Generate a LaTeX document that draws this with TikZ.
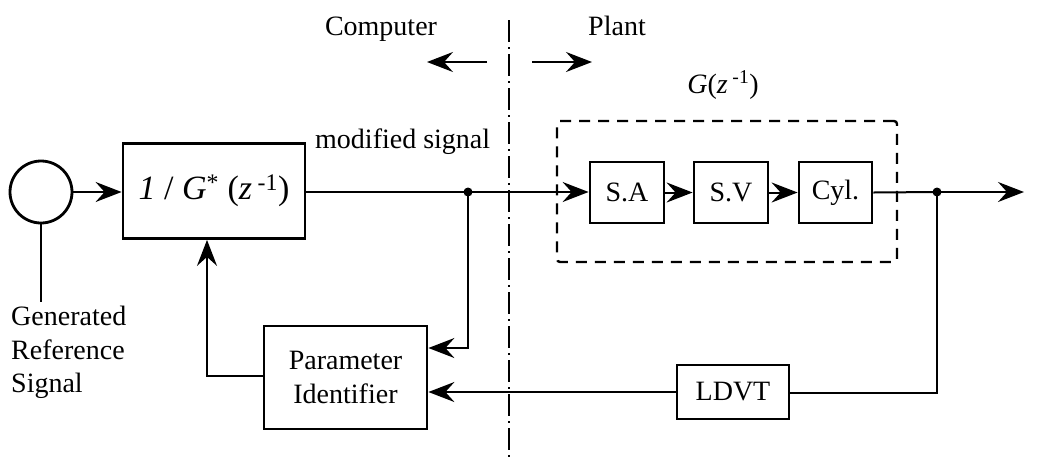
\documentclass[tikz,border=0pt]{standalone}
\usepackage{fontspec}
\setmainfont{Liberation Serif}
\usetikzlibrary{arrows.meta}
\begin{document}
\begin{tikzpicture}[x=1pt,y=-1pt,
  font=\fontsize{28}{33.5}\selectfont,
  blk/.style={draw,line width=2.8pt,inner sep=0pt,align=center},
  wire/.style={line width=2pt},
  arr/.style={wire,-{Stealth[length=26pt,width=20pt,inset=9pt]}},
  jdot/.style={circle,fill,inner sep=0pt,minimum size=9pt},
  dashbox/.style={draw,line width=2.4pt,dash pattern=on 11pt off 8pt,rounded corners=3pt,inner sep=0pt},
  sep/.style={line width=1.6pt,dash pattern=on 22pt off 5pt on 2pt off 5pt}]
\useasboundingbox (0,0) rectangle (1046,459);

% separator and side labels
\coordinate (septop) at (509,20);
\coordinate (sepbot) at (509,459);
\draw[sep] (septop) -- (sepbot);
\node[anchor=base,inner sep=0pt] (comp) at (381,35) {Computer};
\node[anchor=base,inner sep=0pt] (plant) at (617,35) {Plant};
\coordinate (la1) at (487,62); \coordinate (la2) at (427,62);
\coordinate (ra1) at (532,62); \coordinate (ra2) at (592,62);
\draw[arr] (la1) -- (la2);
\draw[arr] (ra1) -- (ra2);

% blocks
\node[blk,circle,minimum size=62pt] (src) at (41,192) {};
\node[blk,minimum width=182pt,minimum height=95pt] (inv) at (214,191)
  {\fontsize{34}{40}\selectfont\textit{1} / \textit{G}\textsuperscript{*} (\textit{z}\,\textsuperscript{-1})};
\node[anchor=base west,inner sep=0pt] (mod) at (315,148) {modified signal};

\node[dashbox,minimum width=340pt,minimum height=141pt] (plantbox) at (727,191.5) {};
\node[anchor=base,inner sep=0pt] (glbl) at (723,93) {\textit{G}(\textit{z}\,\textsuperscript{-1})};
\node[blk,minimum width=74pt,minimum height=61pt] (sa) at (627,192.5) {S.A};
\node[blk,minimum width=74pt,minimum height=61pt] (sv) at (731,192.5) {S.V};
\node[blk,minimum width=73pt,minimum height=61pt] (cyl) at (835.5,192.5) {Cyl.};

\node[blk,minimum width=163pt,minimum height=103pt] (pid) at (345.5,377.5) {Parameter\\Identifier};
\node[blk,minimum width=112pt,minimum height=54pt] (ldvt) at (733,392) {LDVT};

\node[jdot] (j1) at (468,192) {};
\node[jdot] (j2) at (937,192) {};
\coordinate (out) at (1024,192);
\coordinate (genend) at (41,302);
\coordinate (fb) at (207,376);
\coordinate (tap) at (468,348);
\coordinate (fbr) at (937,393);

\node[anchor=north west,inner sep=0pt,align=left] (gen) at (11,306) {Generated\\Reference\\Signal};

% connectors
\draw[arr] (src.east) -- (src.east -| inv.west);
\draw[wire] (inv.east |- j1) -- (j1.center);
\draw[arr] (j1.center) -- (j1 -| sa.west);
\draw[arr] (sa.east) -- (sv.west);
\draw[arr] (sv.east) -- (cyl.west);
\draw[wire] (cyl.east) -- (j2.center);
\draw[arr] (j2.center) -- (out);
\draw[wire] (src.south) -- (genend);
\draw[arr] (j1.center) -- (tap) -- (tap -| pid.east);
\draw[wire] (j2.center) -- (fbr) -- (fbr -| ldvt.east);
\draw[arr] (ldvt.west) -- (ldvt.west -| pid.east);
\draw[arr] (fb -| pid.west) -- (fb) -- (fb |- inv.south);
\end{tikzpicture}
\end{document}
